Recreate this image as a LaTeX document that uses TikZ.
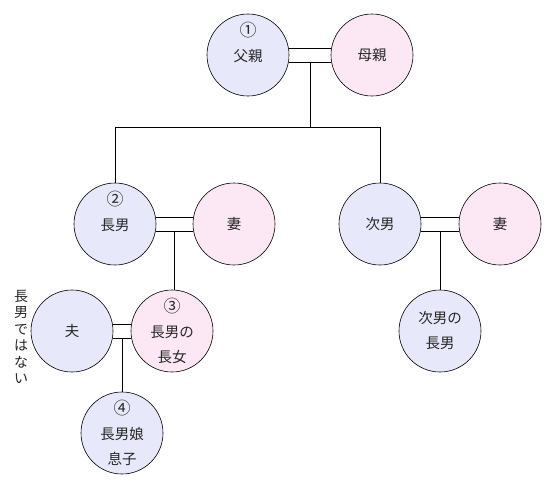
\documentclass[tikz,border=0pt]{standalone}
\usepackage{fontspec}
\newfontfamily\jpfont{Noto Sans CJK JP}
\definecolor{kblue}{RGB}{231,233,250}
\definecolor{kpink}{RGB}{252,232,244}
\usetikzlibrary{calc}
\newcommand{\cnum}[1]{{\fontsize{17pt}{17pt}\selectfont #1}}

\begin{document}
\begin{tikzpicture}[x=1pt, y=-1pt,
  person/.style={circle, draw=black, line width=0.6pt, minimum size=82pt,
                 inner sep=0pt, align=center, text=black!85,
                 font=\jpfont\fontsize{14.5pt}{25pt}\selectfont},
  male/.style={person, fill=kblue},
  female/.style={person, fill=kpink},
  link/.style={line width=0.6pt}
]
\useasboundingbox (0,0) rectangle (551,488);

% Parents
\node[male]   (father) at (248,55) {\cnum{①}\\父親\\\phantom{①}};
\node[female] (mother) at (372,55) {母親};

% Children and spouses
\node[male]   (son1)  at (115,224) {\cnum{②}\\長男\\\phantom{②}};
\node[female] (wife1) at (234,224) {妻};
\node[male]   (son2)  at (380,224) {次男};
\node[female] (wife2) at (500,224) {妻};

% Grandchildren
\node[male]   (husband)  at (72,331)  {夫};
\node[female] (daughter) at (172,331) {\cnum{③}\\長男の\\長女};
\node[male]   (grandson) at (440,331) {次男の\\長男};
\node[male]   (greatson) at (122,433) {\cnum{④}\\長男娘\\息子};

% Side note
\node[font=\jpfont\fontsize{14pt}{16.5pt}\selectfont, align=center, inner sep=0pt,
      text=black!85]
  (note) at (21,337) {長\\男\\で\\は\\な\\い};

% Marriage lines
\draw[link] (father.10)  -- (mother.170);
\draw[link] (father.-10) -- (mother.190);
\draw[link] (son1.10)    -- (wife1.170);
\draw[link] (son1.-10)   -- (wife1.190);
\draw[link] (son2.10)    -- (wife2.170);
\draw[link] (son2.-10)   -- (wife2.190);
\draw[link] (husband.10)  -- (daughter.170);
\draw[link] (husband.-10) -- (daughter.190);

\coordinate (m0) at ($(father.-10)!0.5!(mother.190)$);
\coordinate (m1) at ($(son1.-10)!0.5!(wife1.190)$);
\coordinate (m2) at ($(son2.-10)!0.5!(wife2.190)$);
\coordinate (m3) at ($(husband.-10)!0.5!(daughter.190)$);
\coordinate (bar) at ($(m0)+(0,65)$);

% Descent lines
\draw[link] (m0) -- (bar);
\draw[link] (son1.north) |- (bar) -| (son2.north);
\draw[link] (m1) -- (m1 |- daughter.north);
\draw[link] (m2) -- (m2 |- grandson.north);
\draw[link] (m3) -- (m3 |- greatson.north);
\end{tikzpicture}
\end{document}
